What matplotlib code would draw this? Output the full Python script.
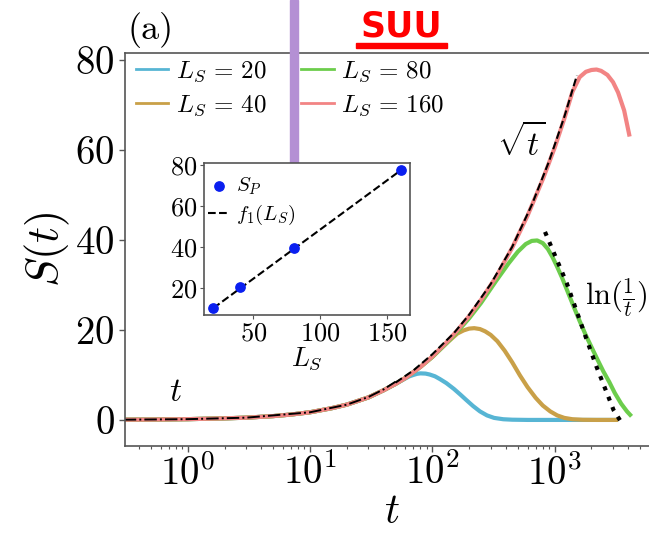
import matplotlib
matplotlib.use('Agg')
import matplotlib.pyplot as plt
from matplotlib.patches import Rectangle
from matplotlib.ticker import FuncFormatter

plt.rcParams['font.family'] = 'serif'
plt.rcParams['font.serif'] = ['cmr10']
plt.rcParams['mathtext.fontset'] = 'cm'
plt.rcParams['axes.formatter.use_mathtext'] = True
plt.rcParams['axes.unicode_minus'] = False

# shared early-time growth (all L_S follow it)
t_early = [0.3, 0.5, 1, 2, 3, 5, 7, 10, 15, 20, 30, 40, 50]
S_early = [0.05, 0.08, 0.17, 0.35, 0.5, 0.85, 1.2, 1.7, 2.6, 3.4, 5.0, 6.6, 8.0]

# L_S = 20
t_20 = [60, 65, 70, 75, 80, 88, 95, 105, 115, 130, 150, 170, 190, 215, 245, 280,
        320, 380, 450, 600, 1000, 3300]
S_20 = [9.2, 9.7, 10.0, 10.25, 10.35, 10.3, 10.1, 9.7, 9.1, 8.2, 6.9, 5.6, 4.4, 3.1,
        1.9, 1.0, 0.45, 0.15, 0.05, 0, 0, 0]

# L_S = 40
t_40 = [60, 80, 100, 130, 160, 180, 200, 220, 245, 270, 300, 340, 390, 450, 520, 600,
        700, 800, 920, 1050, 1200, 1400, 1700, 2200, 3300]
S_40 = [9.3, 11.8, 14.0, 17.0, 19.2, 19.9, 20.3, 20.4, 20.2, 19.7, 18.9, 17.5, 15.4,
        12.8, 9.9, 7.3, 4.9, 3.2, 1.9, 1.0, 0.45, 0.15, 0.03, 0, 0]

# L_S = 80
t_80 = [60, 80, 100, 130, 160, 200, 250, 330, 420, 500, 580, 650, 720, 800, 880, 960,
        1050, 1150, 1300, 1450, 1600, 1800, 2000, 2250, 2500, 2800, 3100, 3500, 3900, 4250]
S_80 = [9.3, 11.8, 14.0, 17.0, 19.6, 22.6, 26.0, 30.8, 34.8, 37.4, 39.1, 39.8, 39.9,
        39.3, 38.0, 36.2, 34.0, 31.6, 28.0, 24.8, 22.0, 18.8, 16.2, 13.3, 10.8, 8.4,
        6.0, 3.6, 1.9, 0.8]

# L_S = 160
t_160 = [60, 80, 100, 130, 160, 200, 250, 330, 450, 600, 800, 1000, 1200, 1400, 1600,
         1800, 2000, 2200, 2400, 2700, 3000, 3300, 3700, 4100]
S_160 = [9.3, 11.8, 14.1, 17.2, 19.9, 23.1, 26.7, 31.7, 38.3, 45.4, 53.5, 60.5, 67.0,
         73.0, 76.2, 77.4, 77.8, 77.9, 77.6, 76.7, 75.1, 72.8, 68.8, 63.0]

# fitted guides
t_lin = [0.3, 1, 3, 10, 20, 30, 40, 50]
S_lin = [0.05, 0.17, 0.5, 1.7, 3.4, 5.1, 6.8, 8.5]
t_sqrt = [50, 70, 100, 150, 200, 300, 450, 650, 900, 1200, 1520]
S_sqrt = [8.3, 11.0, 14.6, 19.3, 23.4, 30.2, 38.5, 47.8, 57.5, 67.4, 76.6]
t_log = [834, 1256, 1830, 2200, 2680, 3030, 3540]
S_log = [41.8, 30.4, 17.8, 11.8, 5.9, 2.2, -0.7]

# inset: peak entanglement vs subsystem size
L_S = [20, 40, 80, 160]
S_P = [10.0, 20.3, 39.6, 77.6]
f1_L = [20, 160]
f1_S = [10.0, 77.5]

labels = [r'$L_S\,=\,20$', r'$L_S\,=\,40$', r'$L_S\,=\,80$', r'$L_S\,=\,160$']
colors = ['#57b5d4', '#c9a048', '#6ccd4c', '#f28484']

fig = plt.figure(figsize=(6.49, 5.42), dpi=100)
ax = fig.add_axes([0.1926, 0.1771, 0.8213, 0.7245])

series = [(t_20, S_20), (t_40, S_40), (t_80, S_80), (t_160, S_160)]
handles = []
for (tt, ss), c, lab in zip(series, colors, labels):
    ax.plot(t_early + tt, S_early + ss, color=c, lw=3, solid_capstyle='butt',
            solid_joinstyle='round')
    h, = ax.plot([], [], color=c, lw=2, label=lab)
    handles.append(h)

ax.plot(t_lin, S_lin, color='k', ls='-.', lw=1.4)
ax.plot(t_sqrt, S_sqrt, color='k', ls='--', lw=1.5)
ax.plot(t_log, S_log, color='k', ls=':', lw=3)

ax.set_xscale('log')
ax.set_xlim(0.307, 7000)
ax.set_ylim(-5.8, 81.5)
ax.set_yticks([0, 20, 40, 60, 80])
ax.yaxis.set_major_formatter(FuncFormatter(lambda v, p: r'$%d$' % v))
ax.tick_params(axis='both', which='major', labelsize=28, length=4, width=1, color='#555555')
ax.tick_params(axis='x', which='major', pad=2)
ax.tick_params(axis='x', which='minor', length=2, width=0.8, color='#555555')
for sp in ax.spines.values():
    sp.set_color('#555555')
    sp.set_linewidth(1.2)

ax.set_xlabel(r'$t$', fontsize=30, labelpad=0)
ax.set_ylabel(r'$S(t)$', fontsize=32, labelpad=2)

ax.legend(handles=handles, ncol=2, loc='upper left', bbox_to_anchor=(0.02, 0.985),
          frameon=False, fontsize=18, borderpad=0, borderaxespad=0,
          handlelength=1.3, handletextpad=0.3, columnspacing=1.4, labelspacing=0.4)

ax.text(0.8, 6.2, r'$t$', fontsize=24, ha='center', va='center')
ax.text(531, 61.8, r'$\sqrt{t}$', fontsize=24, ha='center', va='center')
ax.text(1773, 27.3, r'$\ln(\frac{1}{t})$', fontsize=22, ha='left', va='center')

fig.text(0.196, 0.944, '(a)', fontsize=26, ha='left', va='center')

# inset
ins = fig.add_axes([0.3143, 0.4188, 0.3174, 0.2799])
ins.set_zorder(3)
ins.scatter(L_S, S_P, s=45, color='#0a1ff0', zorder=3, label=r'$S_P$')
ins.plot(f1_L, f1_S, color='k', ls='--', lw=1.5, label=r'$f_1(L_S)$')
ins.set_yticks([20, 40, 60, 80])
ins.set_xticks([50, 100, 150])
ins.xaxis.set_major_formatter(FuncFormatter(lambda v, p: r'$%d$' % v))
ins.yaxis.set_major_formatter(FuncFormatter(lambda v, p: r'$%d$' % v))
ins.tick_params(labelsize=19, length=3, width=0.8, color='#555555', pad=2)
for sp in ins.spines.values():
    sp.set_color('#555555')
    sp.set_linewidth(1.2)
ins.set_xlabel(r'$L_S$', fontsize=19, labelpad=0)
ins.legend(loc='upper left', bbox_to_anchor=(0.02, 0.92), frameon=False, fontsize=15,
           borderpad=0, borderaxespad=0, handlelength=1.0, handletextpad=0.35,
           labelspacing=0.3)

# purple marker bar and SUU stamp
fig.add_artist(Rectangle((0.4468, 0.699), 0.0124, 0.301, transform=fig.transFigure,
                         color='#b490d4', zorder=2))
fig.text(0.618, 0.952, 'SUU', fontsize=25, color='#ff0000', fontweight='bold',
         family='DejaVu Sans', ha='center', va='center')
fig.add_artist(Rectangle((0.549, 0.911), 0.140, 0.009, transform=fig.transFigure,
                         color='#ff0000', zorder=2))

fig.savefig('out.png', dpi=100)
